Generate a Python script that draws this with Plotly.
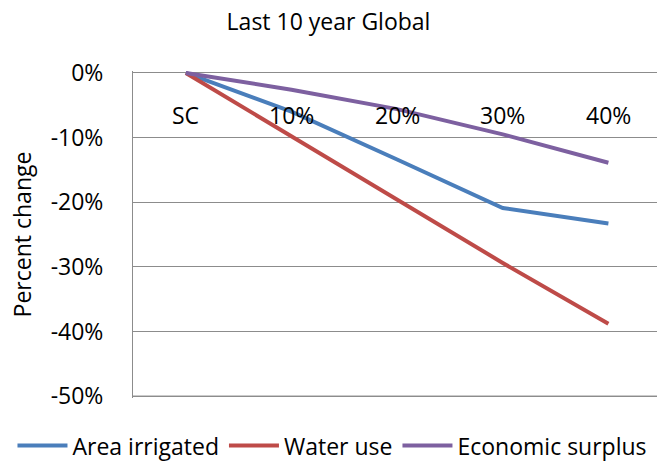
import plotly.graph_objects as go

categories = ["SC", "10%", "20%", "30%", "40%"]
area_irrigated = [0.0, -6.0, -13.4, -20.9, -23.3]
water_use = [0.0, -9.8, -19.6, -29.4, -38.8]
economic_surplus = [0.0, -2.6, -5.6, -9.5, -13.9]

y_tick_values = [0, -10, -20, -30, -40, -50]
y_tick_labels = ["0%", "-10%", "-20%", "-30%", "-40%", "-50%"]

series = [
    ("Area irrigated", area_irrigated, "#4A7EBB"),
    ("Water use", water_use, "#BE4B48"),
    ("Economic surplus", economic_surplus, "#7D60A0"),
]

font_family = "'Open Sans', Lato, sans-serif"
grid_color = "#8C8C8C"
fs = 23

fig = go.Figure()
for name, vals, color in series:
    fig.add_trace(go.Scatter(
        x=list(range(len(categories))),
        y=vals,
        mode="lines",
        name=name,
        line=dict(color=color, width=4),
    ))

# category labels sit just under the 0% line, where the axis crosses
for i, cat in enumerate(categories):
    fig.add_annotation(x=i, y=0, xref="x", yref="y", text=cat, showarrow=False,
                       yanchor="middle", yshift=-42, font=dict(size=fs))

# bottom gridline at the lowest tick
fig.add_shape(type="line", xref="paper", x0=0, x1=1, yref="y",
              y0=y_tick_values[-1], y1=y_tick_values[-1],
              line=dict(color=grid_color, width=1), layer="below")

fig.update_layout(
    width=657,
    height=464,
    margin=dict(l=133, r=0, t=71, b=66, autoexpand=False),
    paper_bgcolor="white",
    plot_bgcolor="white",
    font=dict(family=font_family, size=fs, color="#000000"),
    title=dict(text="Last 10 year Global", x=0.5, xref="container", xanchor="center",
               y=0.953, yanchor="middle", font=dict(size=fs)),
    showlegend=True,
    legend=dict(orientation="h", x=-0.23, xanchor="left", xref="paper",
                y=-0.08, yref="paper", yanchor="top",
                font=dict(size=fs), itemwidth=50, tracegroupgap=0,
                bgcolor="rgba(0,0,0,0)"),
    xaxis=dict(
        range=[-0.5, 4.46],
        showticklabels=False,
        showgrid=False,
        zeroline=False,
        showline=False,
        ticks="",
    ),
    yaxis=dict(
        range=[-50.3, 0.3],
        tickmode="array",
        tickvals=y_tick_values,
        ticktext=y_tick_labels,
        showgrid=True,
        gridcolor=grid_color,
        gridwidth=1,
        zeroline=False,
        showline=True,
        linecolor=grid_color,
        linewidth=1,
        ticks="",
        ticklabelstandoff=24,
        title=dict(text="Percent change", font=dict(size=fs), standoff=12),
        tickfont=dict(size=fs),
    ),
)

fig.write_html("out.html")
